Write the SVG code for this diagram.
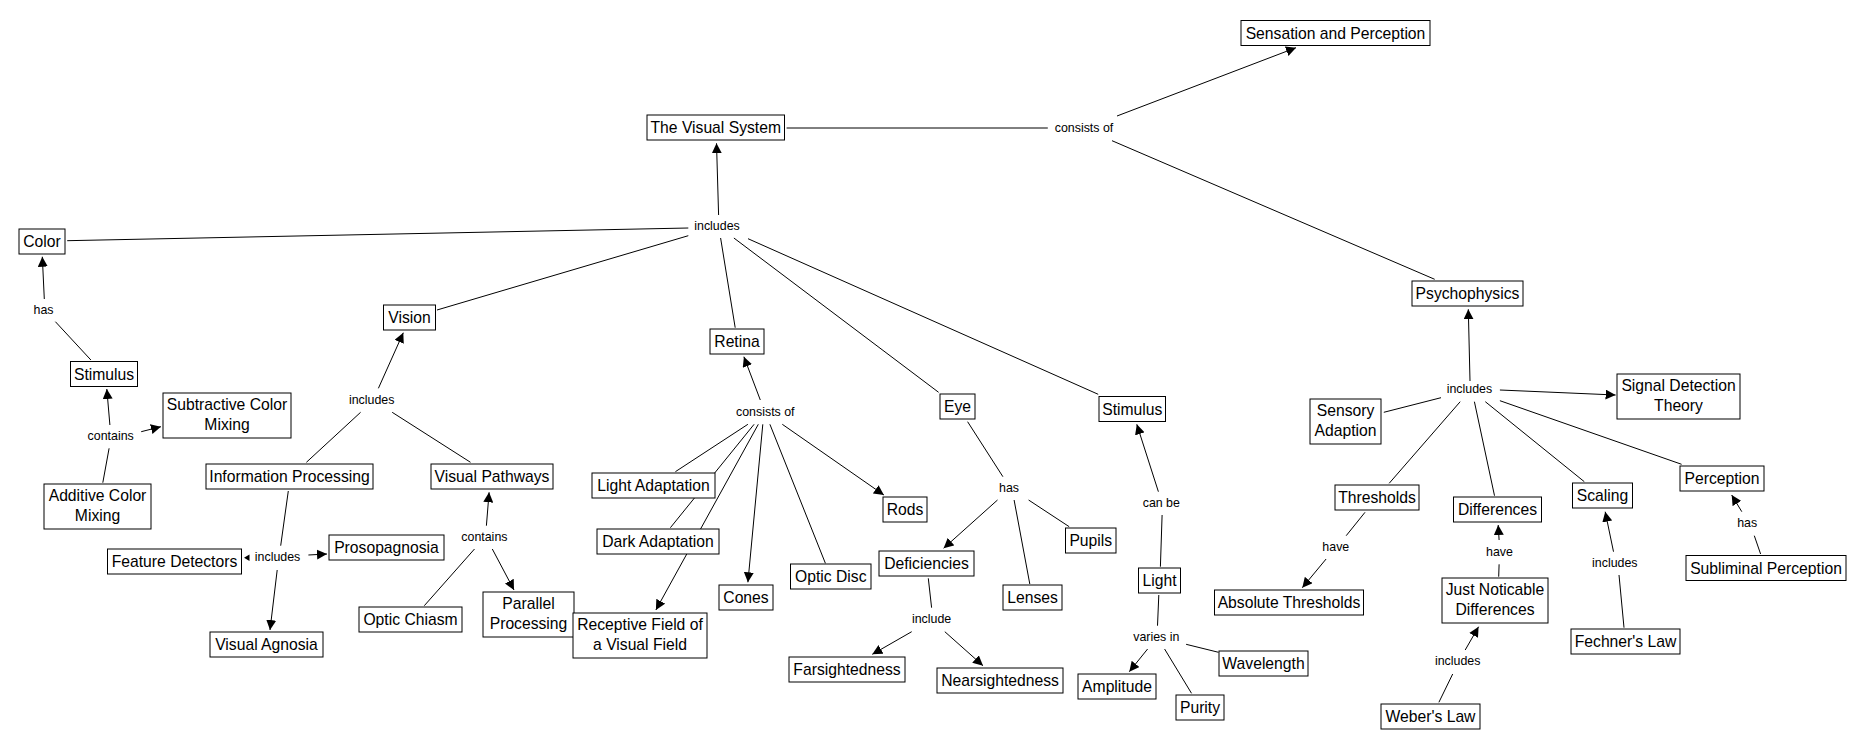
<svg xmlns="http://www.w3.org/2000/svg" width="1855" height="749" viewBox="0 0 1855 749">
<style>
.node rect{fill:#fff;stroke:#000;stroke-width:1}
.node text{font-family:"Liberation Sans",Arial,sans-serif;font-size:15.7px;fill:#000;text-anchor:middle}
.lbl{font-family:"Liberation Sans",Arial,sans-serif;font-size:12.4px;fill:#000;text-anchor:middle}
#connectors line{stroke:#000;stroke-width:1;fill:none}
#connectors line.a{marker-end:url(#arr)}
</style>
<defs>
<marker id="arr" markerUnits="userSpaceOnUse" markerWidth="10" markerHeight="10" refX="10" refY="5" orient="auto">
<path d="M0,0 L10,5 L0,10 z" fill="#000"/>
</marker>
</defs>
<rect x="0" y="0" width="1855" height="749" fill="#fff"/>
<g id="connectors">
<line x1="786.6" y1="128" x2="1047.8" y2="128"/>
<line class="a" x1="1117" y1="116" x2="1296" y2="47.7"/>
<line x1="1112" y1="140.7" x2="1434.7" y2="279.3"/>
<line class="a" x1="718.6" y1="215" x2="716.5" y2="143.3"/>
<line x1="688.3" y1="228" x2="67.2" y2="240.7"/>
<line x1="688.3" y1="235.7" x2="437" y2="310"/>
<line x1="720.6" y1="238" x2="735.2" y2="327.7"/>
<line x1="733.9" y1="238" x2="938.6" y2="392.3"/>
<line x1="748" y1="238.7" x2="1098.2" y2="394.3"/>
<line class="a" x1="44.3" y1="299" x2="42.3" y2="256.7"/>
<line x1="55.4" y1="321.7" x2="90.9" y2="360"/>
<line class="a" x1="109.9" y1="425" x2="106.8" y2="389"/>
<line class="a" x1="141.2" y1="431.7" x2="160.9" y2="426.7"/>
<line x1="109.1" y1="448.3" x2="102.8" y2="482.7"/>
<line class="a" x1="378.4" y1="388.3" x2="403.3" y2="332.7"/>
<line x1="360.6" y1="412.3" x2="306.4" y2="462.3"/>
<line x1="392.2" y1="412.3" x2="470.5" y2="462.3"/>
<line x1="288.3" y1="491" x2="280.7" y2="545.7"/>
<polygon points="244,557.7 249.5,554.5 249.5,561" fill="#000"/>
<line class="a" x1="308.4" y1="555" x2="327" y2="554"/>
<line class="a" x1="277.2" y1="570" x2="270" y2="630"/>
<line class="a" x1="486.4" y1="525.7" x2="489.1" y2="492.3"/>
<line x1="474.5" y1="549" x2="424.3" y2="605.7"/>
<line class="a" x1="492.3" y1="549" x2="514" y2="590"/>
<line class="a" x1="760.3" y1="400" x2="743.9" y2="356.7"/>
<line x1="747.9" y1="424.3" x2="675.4" y2="471.7"/>
<line x1="754.1" y1="424.3" x2="670.4" y2="527.7"/>
<line class="a" x1="758.3" y1="424.3" x2="655.9" y2="610"/>
<line class="a" x1="762.8" y1="424.3" x2="747.9" y2="582.3"/>
<line x1="769.9" y1="424.3" x2="825.4" y2="563.3"/>
<line class="a" x1="782.3" y1="424.3" x2="883.9" y2="495"/>
<line x1="967.6" y1="421.7" x2="1002.9" y2="476.7"/>
<line class="a" x1="997.5" y1="500" x2="943.6" y2="548.3"/>
<line x1="1014.1" y1="500" x2="1029.8" y2="584"/>
<line x1="1028.6" y1="500" x2="1069.2" y2="526.7"/>
<line x1="928.3" y1="578.3" x2="931.6" y2="607.7"/>
<line class="a" x1="911.7" y1="631.7" x2="872.3" y2="654.3"/>
<line class="a" x1="944.8" y1="631.7" x2="983" y2="665.7"/>
<line class="a" x1="1158.4" y1="491.7" x2="1136.8" y2="424.3"/>
<line x1="1162.1" y1="515" x2="1160.4" y2="566.7"/>
<line x1="1158.8" y1="595" x2="1157.5" y2="625.7"/>
<line class="a" x1="1147.6" y1="649" x2="1129.3" y2="671.7"/>
<line x1="1164.6" y1="649" x2="1191.5" y2="693.3"/>
<line x1="1186.1" y1="644.3" x2="1218.5" y2="652.3"/>
<line class="a" x1="1470" y1="381" x2="1468.3" y2="309.3"/>
<line x1="1441" y1="397.7" x2="1383.8" y2="412.3"/>
<line class="a" x1="1499.9" y1="390" x2="1615.6" y2="395"/>
<line x1="1460.2" y1="401.7" x2="1389.2" y2="483.3"/>
<line x1="1474.4" y1="401.7" x2="1494.5" y2="495.7"/>
<line x1="1485.3" y1="401.7" x2="1584.3" y2="481.7"/>
<line x1="1499.9" y1="400.7" x2="1681.6" y2="464.3"/>
<line x1="1365" y1="512.3" x2="1346.2" y2="535.7"/>
<line class="a" x1="1326.1" y1="559" x2="1302.3" y2="587.7"/>
<line x1="1498.7" y1="576.7" x2="1499.1" y2="564.3"/>
<line class="a" x1="1499.1" y1="540" x2="1498.2" y2="525"/>
<line x1="1438.9" y1="702.3" x2="1452.7" y2="674"/>
<line class="a" x1="1465.2" y1="650" x2="1478.6" y2="626.7"/>
<line class="a" x1="1613.5" y1="551.7" x2="1605.2" y2="511.7"/>
<line x1="1619" y1="575" x2="1624" y2="627.7"/>
<line class="a" x1="1741.8" y1="511.7" x2="1731.7" y2="495"/>
<line x1="1754.3" y1="535.7" x2="1760.6" y2="554"/>
</g>
<g id="link-labels">
<text class="lbl" x="1084" y="132.1">consists of</text>
<text class="lbl" x="717" y="230.4">includes</text>
<text class="lbl" x="43.5" y="314.4">has</text>
<text class="lbl" x="110.7" y="440.1">contains</text>
<text class="lbl" x="371.7" y="403.7">includes</text>
<text class="lbl" x="277.6" y="561.1">includes</text>
<text class="lbl" x="484.4" y="541.1">contains</text>
<text class="lbl" x="765.3" y="416.1">consists of</text>
<text class="lbl" x="1009" y="492.1">has</text>
<text class="lbl" x="931.6" y="623.1">include</text>
<text class="lbl" x="1161.3" y="507.1">can be</text>
<text class="lbl" x="1156.3" y="641.1">varies in</text>
<text class="lbl" x="1469.4" y="393.4">includes</text>
<text class="lbl" x="1335.8" y="551.1">have</text>
<text class="lbl" x="1499.5" y="556.1">have</text>
<text class="lbl" x="1457.7" y="665.1">includes</text>
<text class="lbl" x="1614.8" y="567.1">includes</text>
<text class="lbl" x="1747.2" y="527.1">has</text>
</g>
<g id="n-sensation" class="node"><rect x="1241" y="20.5" width="189" height="25"/><text x="1335.5" y="38.6">Sensation and Perception</text></g>
<g id="n-visual-system" class="node"><rect x="647" y="115" width="137.5" height="25"/><text x="715.75" y="133.1">The Visual System</text></g>
<g id="n-color" class="node"><rect x="19" y="229" width="46" height="25"/><text x="42" y="247.1">Color</text></g>
<g id="n-vision" class="node"><rect x="383.5" y="305" width="52" height="25"/><text x="409.5" y="323.1">Vision</text></g>
<g id="n-stimulus1" class="node"><rect x="70.5" y="361.5" width="67" height="25"/><text x="104" y="379.6">Stimulus</text></g>
<g id="n-subtractive" class="node"><rect x="163" y="393" width="128" height="45"/><text><tspan x="227" y="409.6">Subtractive Color</tspan><tspan x="227" y="429.6">Mixing</tspan></text></g>
<g id="n-additive" class="node"><rect x="44" y="484" width="107" height="45"/><text><tspan x="97.5" y="500.6">Additive Color</tspan><tspan x="97.5" y="520.6">Mixing</tspan></text></g>
<g id="n-infoproc" class="node"><rect x="206" y="464" width="167" height="25"/><text x="289.5" y="482.1">Information Processing</text></g>
<g id="n-vispath" class="node"><rect x="431" y="464" width="122" height="25"/><text x="492" y="482.1">Visual Pathways</text></g>
<g id="n-featdet" class="node"><rect x="107.5" y="549" width="134" height="25"/><text x="174.5" y="567.1">Feature Detectors</text></g>
<g id="n-prosop" class="node"><rect x="329" y="535" width="115" height="25"/><text x="386.5" y="553.1">Prosopagnosia</text></g>
<g id="n-visagn" class="node"><rect x="210" y="632" width="113" height="25"/><text x="266.5" y="650.1">Visual Agnosia</text></g>
<g id="n-optchi" class="node"><rect x="359" y="607" width="103" height="25"/><text x="410.5" y="625.1">Optic Chiasm</text></g>
<g id="n-parallel" class="node"><rect x="483" y="592" width="91" height="45"/><text><tspan x="528.5" y="608.6">Parallel</tspan><tspan x="528.5" y="628.6">Processing</tspan></text></g>
<g id="n-receptive" class="node"><rect x="573" y="613" width="134" height="45"/><text><tspan x="640" y="629.6">Receptive Field of</tspan><tspan x="640" y="649.6">a Visual Field</tspan></text></g>
<g id="n-retina" class="node"><rect x="710" y="329" width="54" height="25"/><text x="737" y="347.1">Retina</text></g>
<g id="n-lightad" class="node"><rect x="592" y="473" width="123" height="25"/><text x="653.5" y="491.1">Light Adaptation</text></g>
<g id="n-darkad" class="node"><rect x="597" y="529" width="122" height="25"/><text x="658" y="547.1">Dark Adaptation</text></g>
<g id="n-cones" class="node"><rect x="719" y="585" width="54" height="25"/><text x="746" y="603.1">Cones</text></g>
<g id="n-opticdisc" class="node"><rect x="790.5" y="564" width="80.5" height="25"/><text x="830.75" y="582.1">Optic Disc</text></g>
<g id="n-rods" class="node"><rect x="883" y="497" width="44" height="25"/><text x="905" y="515.1">Rods</text></g>
<g id="n-eye" class="node"><rect x="940" y="394" width="35" height="25"/><text x="957.5" y="412.1">Eye</text></g>
<g id="n-deficiencies" class="node"><rect x="879" y="551" width="95" height="25"/><text x="926.5" y="569.1">Deficiencies</text></g>
<g id="n-lenses" class="node"><rect x="1003" y="585" width="59" height="25"/><text x="1032.5" y="603.1">Lenses</text></g>
<g id="n-pupils" class="node"><rect x="1065.5" y="528" width="50.5" height="25"/><text x="1090.75" y="546.1">Pupils</text></g>
<g id="n-farsight" class="node"><rect x="789" y="657" width="116" height="25"/><text x="847" y="675.1">Farsightedness</text></g>
<g id="n-nearsight" class="node"><rect x="937" y="668" width="126" height="25"/><text x="1000" y="686.1">Nearsightedness</text></g>
<g id="n-stimulus2" class="node"><rect x="1099" y="396.5" width="66.5" height="25"/><text x="1132.25" y="414.6">Stimulus</text></g>
<g id="n-light" class="node"><rect x="1138.5" y="568" width="42" height="25"/><text x="1159.5" y="586.1">Light</text></g>
<g id="n-amplitude" class="node"><rect x="1078" y="674" width="78" height="25"/><text x="1117" y="692.1">Amplitude</text></g>
<g id="n-purity" class="node"><rect x="1176" y="695" width="48" height="25"/><text x="1200" y="713.1">Purity</text></g>
<g id="n-wavelength" class="node"><rect x="1219" y="651" width="89" height="25"/><text x="1263.5" y="669.1">Wavelength</text></g>
<g id="n-psycho" class="node"><rect x="1412" y="281" width="111" height="25"/><text x="1467.5" y="299.1">Psychophysics</text></g>
<g id="n-sensory" class="node"><rect x="1310" y="399" width="71" height="45"/><text><tspan x="1345.5" y="415.6">Sensory</tspan><tspan x="1345.5" y="435.6">Adaption</tspan></text></g>
<g id="n-sdt" class="node"><rect x="1617" y="374" width="123" height="45"/><text><tspan x="1678.5" y="390.6">Signal Detection</tspan><tspan x="1678.5" y="410.6">Theory</tspan></text></g>
<g id="n-thresholds" class="node"><rect x="1335" y="485" width="84" height="25"/><text x="1377" y="503.1">Thresholds</text></g>
<g id="n-differences" class="node"><rect x="1453.5" y="497" width="88" height="25"/><text x="1497.5" y="515.1">Differences</text></g>
<g id="n-scaling" class="node"><rect x="1572.5" y="483" width="60" height="25"/><text x="1602.5" y="501.1">Scaling</text></g>
<g id="n-perception" class="node"><rect x="1680" y="466" width="84" height="25"/><text x="1722" y="484.1">Perception</text></g>
<g id="n-absthr" class="node"><rect x="1214.5" y="590" width="149" height="25"/><text x="1289" y="608.1">Absolute Thresholds</text></g>
<g id="n-jnd" class="node"><rect x="1442" y="578" width="106" height="45"/><text><tspan x="1495" y="594.6">Just Noticable</tspan><tspan x="1495" y="614.6">Differences</tspan></text></g>
<g id="n-fechner" class="node"><rect x="1571" y="629" width="109" height="25"/><text x="1625.5" y="647.1">Fechner's Law</text></g>
<g id="n-subliminal" class="node"><rect x="1686" y="555.5" width="160" height="25"/><text x="1766" y="573.6">Subliminal Perception</text></g>
<g id="n-weber" class="node"><rect x="1381" y="704" width="99" height="25"/><text x="1430.5" y="722.1">Weber's Law</text></g>
</svg>
